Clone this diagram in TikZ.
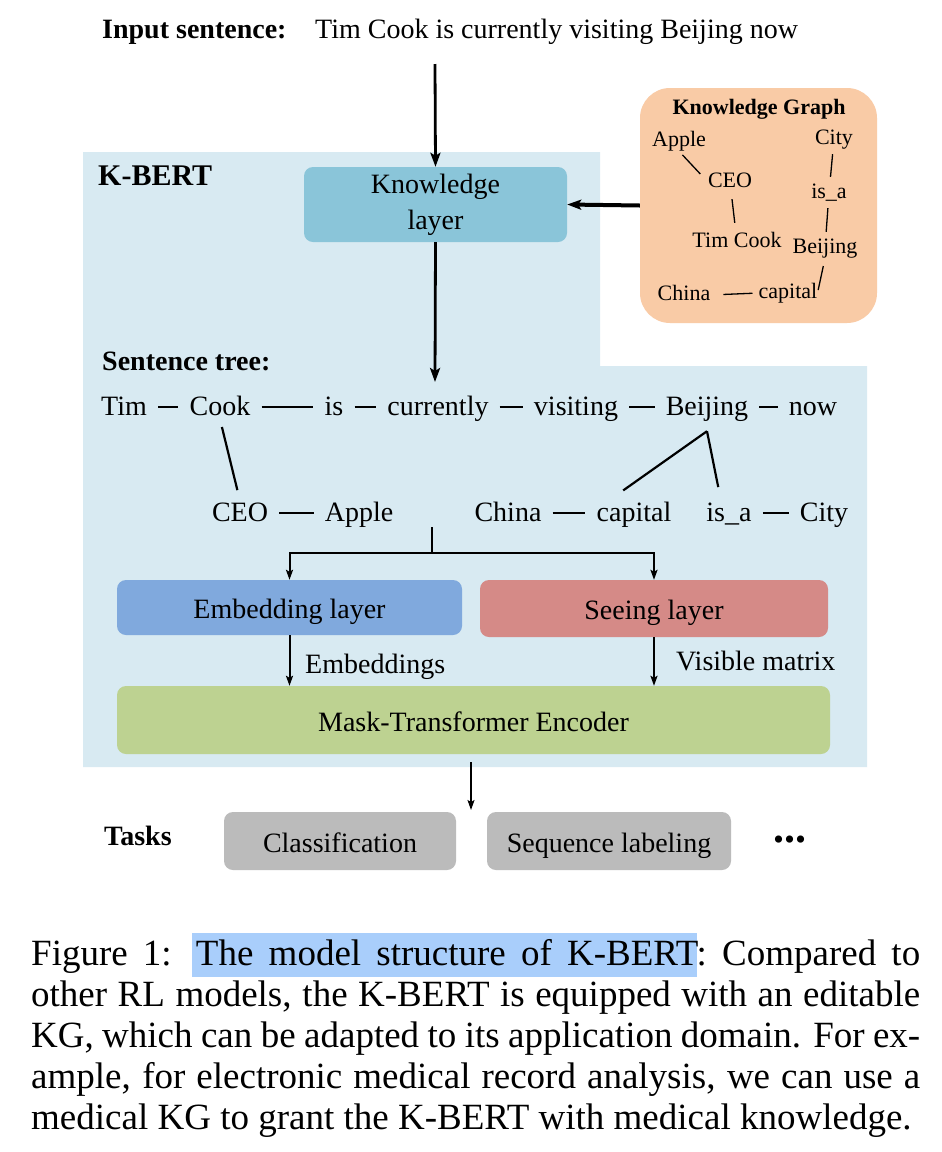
\documentclass[tikz,border=0pt]{standalone}
\usepackage{fontspec}
\setmainfont{Liberation Serif}
\usepackage{xcolor}
\usetikzlibrary{positioning,arrows.meta}

\definecolor{kbertbg}{HTML}{D8EAF2}
\definecolor{klayer}{HTML}{8AC5D9}
\definecolor{kgpeach}{HTML}{F9CBA6}
\definecolor{embblue}{HTML}{80A9DD}
\definecolor{seered}{HTML}{D58A87}
\definecolor{maskgreen}{HTML}{BDD291}
\definecolor{taskgray}{HTML}{BBBBBB}
\definecolor{selblue}{HTML}{A9CEFB}

\begin{document}
\begin{tikzpicture}[
    x=1pt, y=-1pt,
    region/.style  ={fill=kbertbg},
    layer/.style   ={rectangle, rounded corners=9pt, inner sep=0pt, align=center,
                     font=\fontsize{28}{36}\selectfont},
    layerone/.style={layer, text height=24pt, text depth=2pt},
    word/.style    ={inner sep=0pt, text height=20pt, text depth=4pt,
                     font=\fontsize{28}{34}\selectfont},
    head/.style    ={word, font=\fontsize{28}{34}\selectfont\bfseries},
    kgword/.style  ={inner sep=0pt, text height=15pt, text depth=5pt,
                     font=\fontsize{22}{26}\selectfont},
    dashlink/.style={line width=2.6pt, shorten <=11pt, shorten >=11pt},
    treelink/.style={line width=2.2pt},
    kglink/.style  ={line width=1.3pt},
    bigarr/.style  ={line width=2.8pt, -{Stealth[length=14pt,width=10pt,inset=3pt]}},
    smallarr/.style={line width=2pt, -{Stealth[length=10pt,width=7pt,inset=2pt]}}
  ]
    % --- canvas in pixels, y down ---
    \useasboundingbox (0,0) rectangle (942,1152);
    \fill[white] (0,0) rectangle (942,1152);
    \def\rowA{407} % sentence tree, main row
    \def\rowB{513} % sentence tree, branch row

    % K-BERT background
    \fill[region] (83,152) -- (600,152) -- (600,366) -- (867,366)
                  -- (867,767) -- (83,767) -- cycle;

    % input
    \node[head, anchor=west] (inlab) at (102,30) {Input sentence:};
    \node[word, anchor=west] (insent) at (315,30) {Tim Cook is currently visiting Beijing now};
    \node[head, anchor=west, font=\fontsize{30}{34}\selectfont\bfseries] (kbert) at (98,177) {K-BERT};

    % knowledge layer and KG
    \node[layer, fill=klayer, minimum width=263pt, minimum height=75pt] (kl) at (435.5,204.5)
      {Knowledge\\layer};
    \node[rectangle, rounded corners=30pt, fill=kgpeach, minimum width=237pt,
          minimum height=235pt] (kg) at (758.5,205.5) {};
    \node[kgword, font=\fontsize{22}{26}\selectfont\bfseries] (kgtitle) at (759,109) {Knowledge Graph};
    \node[kgword] (kgapple)   at (679,141) {Apple};
    \node[kgword] (kgcity)    at (834,139) {City};
    \node[kgword] (kgceo)     at (730,182) {CEO};
    \node[kgword] (kgisa)     at (829,193) {is\_a};
    \node[kgword] (kgtim)     at (737,242) {Tim Cook};
    \node[kgword] (kgbeijing) at (825,248) {Beijing};
    \node[kgword] (kgchina)   at (684,295) {China};
    \node[kgword] (kgcapital) at (788,293) {capital};

    \draw[kglink, shorten <=5pt, shorten >=11pt] (kgapple.south) -- (kgceo.west);
    \draw[kglink, shorten <=5pt, shorten >=6pt] (kgcity) -- (kgisa);
    \draw[kglink, shorten <=7pt, shorten >=9pt] (kgceo) -- (kgtim);
    \draw[kglink, shorten <=5pt, shorten >=6pt] (kgisa) -- (kgbeijing);
    \draw[kglink, shorten <=13pt, shorten >=6pt] (kgchina.east) -- (kgcapital.west);
    \draw[kglink, shorten <=3pt, shorten >=8pt] (kgcapital.east) -- (kgbeijing.south);

    \coordinate (inputend) at (435,64);
    \draw[bigarr] (inputend) -- (kl.north);
    \draw[bigarr, line width=4pt] (kg.west) -- (kl.east);
    \coordinate (treein) at (435,382);
    \draw[bigarr] (kl.south) -- (treein);

    % --- sentence tree ---
    \node[head, anchor=west] (treelab) at (102,362) {Sentence tree:};
    \foreach \n/\x/\t in {tim/124/Tim, cook/220/Cook, is/334/is, curr/438/currently,
                          visit/576/visiting, beijing/707/Beijing, now/813/now}
      \node[word] (\n) at (\x,\rowA) {\t};
    \foreach \n/\x/\t in {ceo/240/CEO, apple/359/Apple, china/508/China,
                          capital/634/capital, isa/729/is\_a, city/824/City}
      \node[word] (\n) at (\x,\rowB) {\t};

    \foreach \a/\b in {tim/cook, cook/is, is/curr, curr/visit, visit/beijing,
                       beijing/now, ceo/apple, china/capital, isa/city}
      \draw[dashlink] (\a) -- (\b);

    \draw[treelink, shorten <=8pt, shorten >=11pt] (cook.south) -- (ceo.north);
    \coordinate (bjfork) at ([yshift=-12pt]beijing.south);
    \draw[treelink, shorten >=18pt] (bjfork) -- ([xshift=12pt]capital.north west);
    \draw[treelink, shorten >=14pt] (bjfork) -- ([xshift=-8pt]isa.north);

    % --- layers ---
    \node[layerone, fill=embblue, minimum width=345pt, minimum height=55pt] (emb) at (289.5,607.5)
      {Embedding layer};
    \node[layerone, fill=seered, minimum width=348pt, minimum height=57pt] (see) at (654,608.5)
      {Seeing layer};
    \node[layerone, fill=maskgreen, minimum width=713pt, minimum height=68pt] (mask) at (473.5,720)
      {Mask-Transformer Encoder};

    \coordinate (treeout) at (432,527);
    \coordinate (split) at (432,553);
    \draw[line width=2pt] (treeout) -- (split);
    \draw[smallarr] (split) -| (emb.north);
    \draw[smallarr] (split) -| (see.north);
    \draw[smallarr] (emb.south) -- (emb.south |- mask.north);
    \draw[smallarr] (see.south) -- (see.south |- mask.north);
    \node[word, anchor=west] (embtxt) at (305,665) {Embeddings};
    \node[word, anchor=west] (vistxt) at (676,662) {Visible matrix};

    % --- tasks ---
    \coordinate (taskin) at (471,810);
    \draw[smallarr, line width=1.6pt, shorten <=8pt] (mask.south -| taskin) -- (taskin);
    \node[head, anchor=west] (tasks) at (104,837) {Tasks};
    \node[layerone, fill=taskgray, minimum width=232pt, minimum height=58pt] (cls) at (340,841)
      {Classification};
    \node[layerone, fill=taskgray, minimum width=244pt, minimum height=58pt] (seq) at (609,841)
      {Sequence labeling};
    \node[head, font=\fontsize{44}{44}\selectfont\bfseries] (dots) at (790,834) {...};

    % --- caption ---
    \fill[selblue] (192,933) rectangle (697,977);
    \node[anchor=north west, inner sep=0pt, text width=889pt, align=justify,
          font=\fontsize{37}{41}\selectfont] (caption) at (31,939)
      {Figure 1: The model structure of K-BERT: Compared to\linebreak
       other RL models, the K-BERT is equipped with an editable\linebreak
       KG, which can be adapted to its application domain. For ex-\linebreak
       ample, for electronic medical record analysis, we can use a\linebreak
       medical KG to grant the K-BERT with medical knowledge.};
  \end{tikzpicture}
\end{document}
